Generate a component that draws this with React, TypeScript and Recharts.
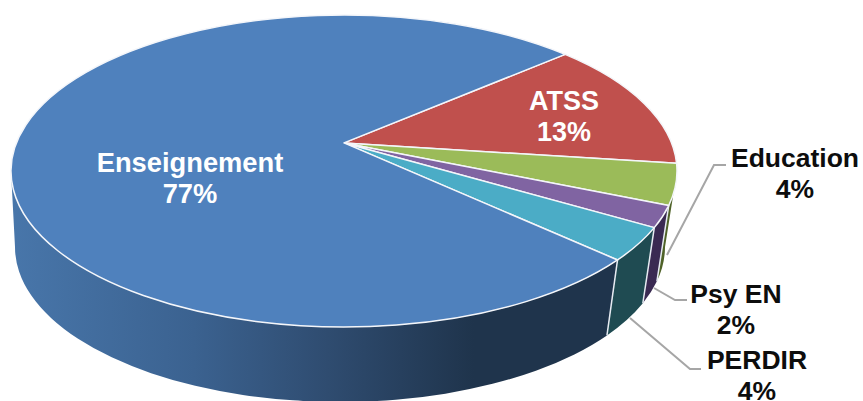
import React from 'react';
import { PieChart, Pie } from 'recharts';

// Values, the printed labels are these rounded
const categories = ['ATSS', 'Education', 'Psy EN', 'PERDIR', 'Enseignement'];
const shares = [13.5, 4.2, 2.2, 3.4, 76.7];
const printed = ['13%', '4%', '2%', '4%', '77%'];
const topColors = ['#c0504d', '#9bbb59', '#8064a2', '#4bacc6', '#4f81bd'];
const wallColors = ['#632423', '#4f6228', '#3a2a52', '#1f4b52', 'url(#blueWall)'];

const data = categories.map((name, i) => ({ name, value: shares[i], printed: printed[i] }));

// label layout
const labelX = [564, 795, 736, 757, 190];
const labelY = [110, 167, 303, 369, 172];
const labelSize = [27, 26.5, 26.5, 26.5, 27.3];
const labelFill = ['#fff', '#0d0d0d', '#0d0d0d', '#0d0d0d', '#fff'];
const leaders: (string | null)[] = [
  null,
  '726,165 714,165 667,255',
  '687,300 675,300 654,288',
  '701,369 690,369 630,318',
  null,
];

// fake 3D view: disc squashed into an ellipse, apex pushed back
const SQUASH = 156 / 333;
const TILT = -0.18;
const BASE = { dx: -4, dy: 76, rx: 325, ry: 155 };

// angle on the flat disc -> angle on the drawn ellipse
const viewAngle = (deg: number) => {
  const a = (-deg * Math.PI) / 180;
  const x = Math.cos(a);
  const y = Math.sin(a);
  const d = 1 + TILT * y;
  return Math.atan2((y + TILT) / d, (x * Math.sqrt(1 - TILT * TILT)) / d);
};

const SliceShape = (props: any) => {
  const { cx, cy, outerRadius, startAngle, endAngle, index, fill } = props;
  const rx = outerRadius;
  const ry = outerRadius * SQUASH;
  const t1 = viewAngle(startAngle);
  let t2 = viewAngle(endAngle);
  while (t2 <= t1) t2 += Math.PI * 2;

  const top = (t: number) => [cx + rx * Math.cos(t), cy + ry * Math.sin(t)];
  const base = (t: number) => [
    cx + BASE.dx + BASE.rx * Math.cos(t),
    cy + BASE.dy + BASE.ry * Math.sin(t),
  ];

  const [ax, ay] = top(t1);
  const [bx, by] = top(t2);
  const large = t2 - t1 > Math.PI ? 1 : 0;
  const apexY = cy + TILT * ry;
  const face = `M${cx},${apexY} L${ax},${ay} A${rx},${ry} 0 ${large} 1 ${bx},${by} Z`;

  // side wall, front half only
  const w1 = Math.max(t1, 0);
  const w2 = Math.min(t2, Math.PI);
  let wall = null;
  if (w2 > w1) {
    const [p1x, p1y] = top(w1);
    const [p2x, p2y] = top(w2);
    const [q2x, q2y] = base(w2);
    const [q1x, q1y] = base(w1);
    wall = (
      <path
        d={`M${p1x},${p1y} A${rx},${ry} 0 0 1 ${p2x},${p2y} L${q2x},${q2y} A${BASE.rx},${BASE.ry} 0 0 0 ${q1x},${q1y} Z`}
        fill={wallColors[index]}
      />
    );
  }
  const showEdge = t1 > 0 && t1 < Math.PI;

  return (
    <g>
      {wall}
      {showEdge && (
        <line
          x1={top(t1)[0]}
          y1={top(t1)[1]}
          x2={base(t1)[0]}
          y2={base(t1)[1]}
          stroke="#e6ebf2"
          strokeWidth={1.5}
        />
      )}
      <path d={face} fill={fill} stroke="#f4f6fa" strokeWidth={1.5} strokeLinejoin="round" />
    </g>
  );
};

const SliceLabel = (props: any) => {
  const { index, name } = props;
  const x = labelX[index];
  const y = labelY[index];
  return (
    <g>
      {leaders[index] && (
        <polyline points={leaders[index] as string} fill="none" stroke="#a6a6a6" strokeWidth={2} />
      )}
      <text
        x={x}
        y={y}
        textAnchor="middle"
        fill={labelFill[index]}
        fontFamily="Liberation Sans, Arial, sans-serif"
        fontWeight="bold"
        fontSize={labelSize[index]}
      >
        <tspan x={x}>{name}</tspan>
        <tspan x={x} dy={31}>{printed[index]}</tspan>
      </text>
    </g>
  );
};

const App: React.FC = () => {
  return (
    <div style={{ position: 'absolute', left: 0, top: 0, width: 863, height: 401, background: '#fff', overflow: 'hidden' }}>
      <PieChart width={863} height={401} margin={{ top: 0, right: 0, bottom: 0, left: 0 }}>
        <defs>
          <linearGradient id="blueWall" gradientUnits="userSpaceOnUse" x1="11" y1="0" x2="620" y2="0">
            <stop offset="0" stopColor="#4876aa" />
            <stop offset="0.3" stopColor="#3b6290" />
            <stop offset="0.52" stopColor="#2f4c70" />
            <stop offset="0.76" stopColor="#1f344c" />
            <stop offset="1" stopColor="#1f344c" />
          </linearGradient>
        </defs>
        <Pie
          data={data}
          dataKey="value"
          nameKey="name"
          cx={344}
          cy={171}
          innerRadius={0}
          outerRadius={333}
          startAngle={41}
          endAngle={-319}
          stroke="none"
          isAnimationActive={false}
          labelLine={false}
          label={SliceLabel}
          shape={(p: any) => <SliceShape {...p} fill={topColors[p.index]} />}
        />
      </PieChart>
    </div>
  );
};

export default App;
